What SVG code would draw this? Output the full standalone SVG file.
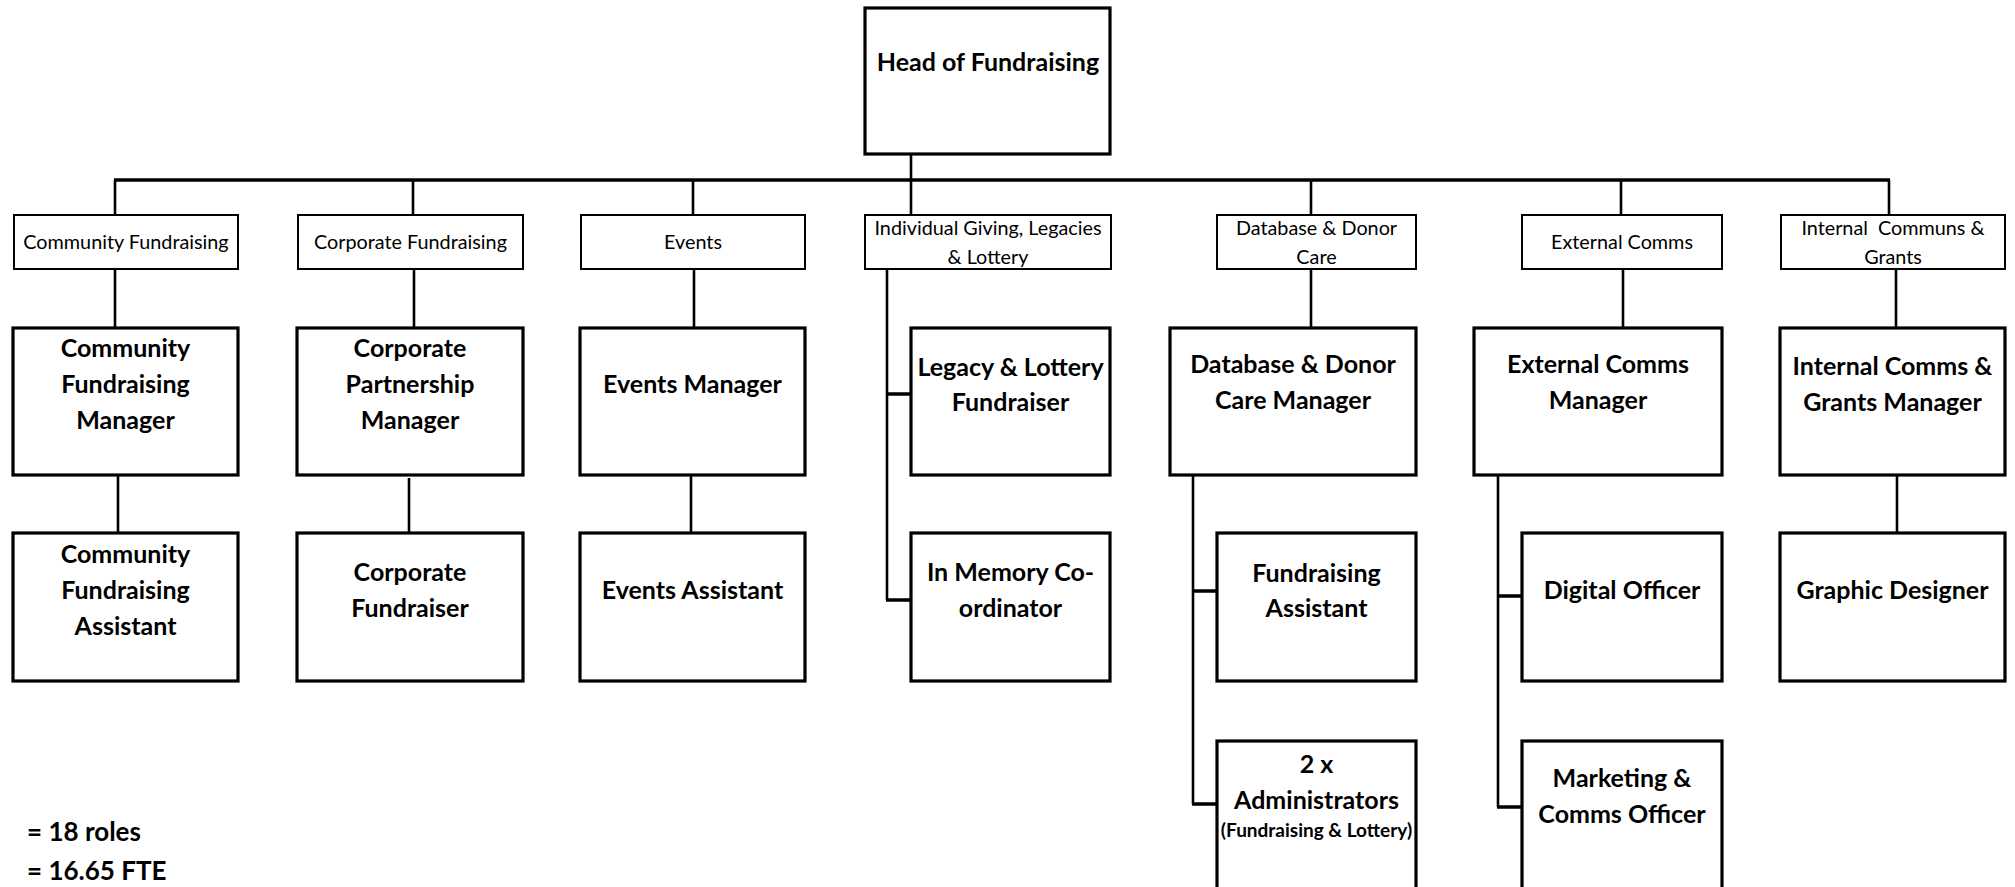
<svg xmlns="http://www.w3.org/2000/svg" width="2015" height="887" viewBox="0 0 2015 887">
<style>
.bg{fill:#ffffff}
.box{fill:#ffffff;stroke:#000;stroke-width:3.2}
.dept{fill:#ffffff;stroke:#000;stroke-width:2}
.t{font-family:Lato,"Liberation Sans",sans-serif;font-weight:bold;font-size:25px;fill:#000;text-anchor:middle}
.d{font-family:Lato,"Liberation Sans",sans-serif;font-size:19.8px;fill:#000;text-anchor:middle}
.s{font-family:Lato,"Liberation Sans",sans-serif;font-weight:bold;font-size:19px;fill:#000;text-anchor:middle}
.n{font-family:Lato,"Liberation Sans",sans-serif;font-weight:bold;font-size:26px;fill:#000}
.c{fill:none;stroke:#000;stroke-width:2.6}
.br{fill:none;stroke:#000;stroke-width:3.4}
</style>
<rect class="bg" x="0" y="0" width="2015" height="887"/>
<g id="connectors">
<path class="c" d="M911 154V215"/>
<path class="br" d="M114 180H1890"/>
<path class="c" d="M115 180V215M413 180V215M693 180V215M1311 180V215M1621 180V215M1889 180V215"/>
<path class="c" d="M115 269V328M414 269V328M694 269V328M1311 269V328M1623 269V328M1896 269V328"/>
<path class="c" d="M118 475V533M409 478V533M691 475V533M1897 475V533"/>
<path class="c" d="M887 269V600"/>
<path class="br" d="M886 394H911M886 600H911"/>
<path class="c" d="M1193 475V804"/>
<path class="br" d="M1192 591H1217M1192 804H1217"/>
<path class="c" d="M1498 475V807"/>
<path class="br" d="M1497 596H1522M1497 807H1522"/>
</g>
<g id="head">
<rect class="box" x="865" y="8" width="245" height="146"/>
<text class="t" x="988" y="71">Head of Fundraising</text>
</g>
<g id="dept-community">
<rect class="dept" x="14" y="215" width="224" height="54"/>
<text class="d" x="126" y="249">Community Fundraising</text>
</g>
<g id="dept-corporate">
<rect class="dept" x="298" y="215" width="225" height="54"/>
<text class="d" x="410.5" y="249">Corporate Fundraising</text>
</g>
<g id="dept-events">
<rect class="dept" x="581" y="215" width="224" height="54"/>
<text class="d" x="693" y="249">Events</text>
</g>
<g id="dept-individual">
<rect class="dept" x="865" y="215" width="246" height="54"/>
<text class="d" x="988" y="235">Individual Giving, Legacies</text>
<text class="d" x="988" y="264">&amp; Lottery</text>
</g>
<g id="dept-database">
<rect class="dept" x="1217" y="215" width="199" height="54"/>
<text class="d" x="1316.5" y="235">Database &amp; Donor</text>
<text class="d" x="1316.5" y="264">Care</text>
</g>
<g id="dept-external">
<rect class="dept" x="1522" y="215" width="200" height="54"/>
<text class="d" x="1622" y="249">External Comms</text>
</g>
<g id="dept-internal">
<rect class="dept" x="1781" y="215" width="224" height="54"/>
<text class="d" x="1893" y="235" xml:space="preserve">Internal  Communs &amp;</text>
<text class="d" x="1893" y="264">Grants</text>
</g>
<g id="community-manager">
<rect class="box" x="13" y="328" width="225" height="147"/>
<text class="t" x="125.5" y="357">Community</text>
<text class="t" x="125.5" y="393">Fundraising</text>
<text class="t" x="125.5" y="429">Manager</text>
</g>
<g id="corporate-manager">
<rect class="box" x="297" y="328" width="226" height="147"/>
<text class="t" x="410" y="357">Corporate</text>
<text class="t" x="410" y="393">Partnership</text>
<text class="t" x="410" y="429">Manager</text>
</g>
<g id="events-manager">
<rect class="box" x="580" y="328" width="225" height="147"/>
<text class="t" x="692.5" y="393">Events Manager</text>
</g>
<g id="legacy-fundraiser">
<rect class="box" x="911" y="328" width="199" height="147"/>
<text class="t" x="1010.5" y="376">Legacy &amp; Lottery</text>
<text class="t" x="1010.5" y="411">Fundraiser</text>
</g>
<g id="database-manager">
<rect class="box" x="1170" y="328" width="246" height="147"/>
<text class="t" x="1293" y="373">Database &amp; Donor</text>
<text class="t" x="1293" y="409">Care Manager</text>
</g>
<g id="external-manager">
<rect class="box" x="1474" y="328" width="248" height="147"/>
<text class="t" x="1598" y="373">External Comms</text>
<text class="t" x="1598" y="409">Manager</text>
</g>
<g id="internal-manager">
<rect class="box" x="1780" y="328" width="225" height="147"/>
<text class="t" x="1892.5" y="375">Internal Comms &amp;</text>
<text class="t" x="1892.5" y="411">Grants Manager</text>
</g>
<g id="community-assistant">
<rect class="box" x="13" y="533" width="225" height="148"/>
<text class="t" x="125.5" y="563">Community</text>
<text class="t" x="125.5" y="599">Fundraising</text>
<text class="t" x="125.5" y="635">Assistant</text>
</g>
<g id="corporate-fundraiser">
<rect class="box" x="297" y="533" width="226" height="148"/>
<text class="t" x="410" y="581">Corporate</text>
<text class="t" x="410" y="617">Fundraiser</text>
</g>
<g id="events-assistant">
<rect class="box" x="580" y="533" width="225" height="148"/>
<text class="t" x="692.5" y="599">Events Assistant</text>
</g>
<g id="in-memory">
<rect class="box" x="911" y="533" width="199" height="148"/>
<text class="t" x="1010.5" y="581">In Memory Co-</text>
<text class="t" x="1010.5" y="617">ordinator</text>
</g>
<g id="fundraising-assistant">
<rect class="box" x="1217" y="533" width="199" height="148"/>
<text class="t" x="1316.5" y="582">Fundraising</text>
<text class="t" x="1316.5" y="617">Assistant</text>
</g>
<g id="digital-officer">
<rect class="box" x="1522" y="533" width="200" height="148"/>
<text class="t" x="1622" y="599">Digital Officer</text>
</g>
<g id="graphic-designer">
<rect class="box" x="1780" y="533" width="225" height="148"/>
<text class="t" x="1892.5" y="599">Graphic Designer</text>
</g>
<g id="administrators">
<rect class="box" x="1217" y="741" width="199" height="160"/>
<text class="t" x="1316.5" y="773">2 x</text>
<text class="t" x="1316.5" y="809">Administrators</text>
<text class="s" x="1316.5" y="837">(Fundraising &amp; Lottery)</text>
</g>
<g id="marketing-officer">
<rect class="box" x="1522" y="741" width="200" height="160"/>
<text class="t" x="1622" y="787">Marketing &amp;</text>
<text class="t" x="1622" y="823">Comms Officer</text>
</g>
<g id="totals">
<text class="n" x="27" y="841">= 18 roles</text>
<text class="n" x="27" y="880">= 16.65 FTE</text>
</g>
</svg>
